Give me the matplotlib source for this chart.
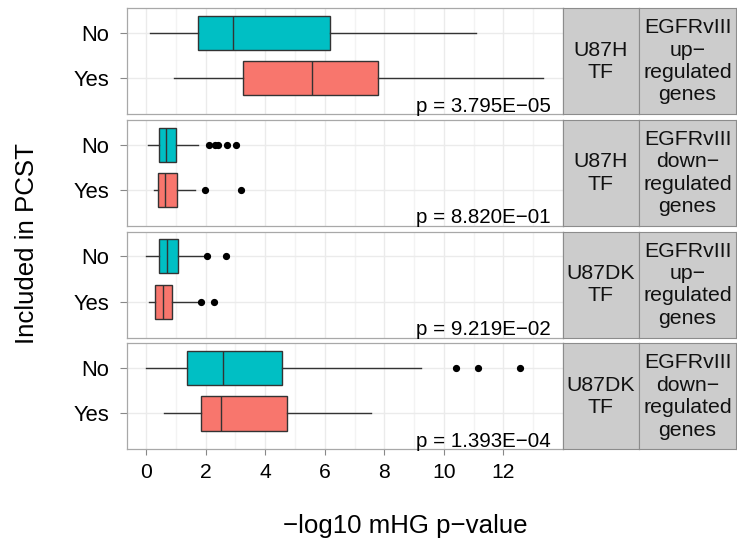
import matplotlib
matplotlib.use("Agg")
import matplotlib.pyplot as plt
import numpy as np

plt.rcParams['font.family'] = ['Liberation Sans', 'DejaVu Sans']

# ---------------- data ----------------
categories = ["Yes", "No"]  # bottom to top
tf_labels = ["U87H\nTF", "U87H\nTF", "U87DK\nTF", "U87DK\nTF"]
gene_labels = ["EGFRvIII\nup\u2212\nregulated\ngenes",
               "EGFRvIII\ndown\u2212\nregulated\ngenes",
               "EGFRvIII\nup\u2212\nregulated\ngenes",
               "EGFRvIII\ndown\u2212\nregulated\ngenes"]
p_labels = ["p = 3.795E\u221205", "p = 8.820E\u221201",
            "p = 9.219E\u221202", "p = 1.393E\u221204"]

no_whislo = [0.13, 0.05, 0.01, 0.01]
no_q1 = [1.74, 0.44, 0.43, 1.39]
no_med = [2.91, 0.66, 0.69, 2.57]
no_q3 = [6.18, 1.02, 1.06, 4.56]
no_whishi = [11.07, 1.74, 1.95, 9.23]
no_fliers = [[], [2.12, 2.33, 2.40, 2.73, 3.01], [2.04, 2.67], [10.40, 11.13, 12.57]]

yes_whislo = [0.94, 0.26, 0.11, 0.59]
yes_q1 = [3.26, 0.41, 0.31, 1.86]
yes_med = [5.57, 0.64, 0.57, 2.53]
yes_q3 = [7.79, 1.03, 0.87, 4.72]
yes_whishi = [13.32, 1.65, 1.70, 7.56]
yes_fliers = [[], [1.99, 3.18], [1.85, 2.27], []]

x_ticks = [0, 2, 4, 6, 8, 10, 12]
col_no = "#00BFC4"
col_yes = "#F8766D"

# ---------------- layout ----------------
W, H = 737, 546
fig = plt.figure(figsize=(W / 100, H / 100), dpi=100)
fig.patch.set_facecolor("white")

px_left, px_right = 126.7, 562.7
strip1_r, strip2_r = 639.0, 736.0
top0, ph, pitch = 8.3, 106.0, 111.7

edge = "#333333"
border = "#A8A8A8"


def fx(px):
    return px / W


def fy(py):
    return 1 - py / H


for i in range(4):
    top = top0 + i * pitch
    ax = fig.add_axes([fx(px_left), fy(top + ph), (px_right - px_left) / W, ph / H])
    ax.set_xlim(-0.65, 13.99)
    ax.set_ylim(0.21, 2.54)
    ax.set_facecolor("white")
    # grid
    for xv in np.arange(1, 14, 2):
        ax.axvline(xv, color="#F3F3F3", lw=1.0, zorder=0)
    for xv in x_ticks:
        ax.axvline(xv, color="#EBEBEB", lw=1.0, zorder=0)
    for yv in [1, 2]:
        ax.axhline(yv, color="#EBEBEB", lw=1.0, zorder=0)

    stats = [
        dict(whislo=yes_whislo[i], q1=yes_q1[i], med=yes_med[i], q3=yes_q3[i],
             whishi=yes_whishi[i], fliers=yes_fliers[i]),
        dict(whislo=no_whislo[i], q1=no_q1[i], med=no_med[i], q3=no_q3[i],
             whishi=no_whishi[i], fliers=no_fliers[i]),
    ]
    kw = dict(positions=[1, 2], widths=0.75, patch_artist=True, showcaps=False,
              boxprops=dict(edgecolor=edge, linewidth=1.0),
              medianprops=dict(color=edge, linewidth=1.0),
              whiskerprops=dict(color=edge, linewidth=1.0),
              flierprops=dict(marker="o", markerfacecolor="black",
                              markeredgecolor="black", markersize=4.2),
              manage_ticks=False, zorder=2)
    try:
        res = ax.bxp(stats, orientation="horizontal", **kw)
    except TypeError:
        res = ax.bxp(stats, vert=False, **kw)
    for patch, c in zip(res["boxes"], [col_yes, col_no]):
        patch.set_facecolor(c)

    ax.text(13.58, 0.27, p_labels[i], ha="right", va="baseline", fontsize=14.8,
            color="black", zorder=3)

    ax.set_yticks([1, 2])
    ax.set_yticklabels(categories, fontsize=15.8, color="black")
    ax.tick_params(axis="y", length=4.8, width=0.8, color="#888888", pad=7.5)
    if i == 3:
        ax.set_xticks(x_ticks)
        ax.set_xticklabels([str(v) for v in x_ticks], fontsize=15.2, color="black")
        ax.tick_params(axis="x", length=4.0, width=0.8, color="#888888", pad=5.5)
    else:
        ax.set_xticks([])
    for s in ax.spines.values():
        s.set_color(border)
        s.set_linewidth(0.9)

    # strips
    for (l, r, txt) in [(px_right, strip1_r, tf_labels[i]), (strip1_r, strip2_r, gene_labels[i])]:
        sa = fig.add_axes([fx(l), fy(top + ph), (r - l) / W, ph / H])
        sa.set_facecolor("#CCCCCC")
        sa.set_xticks([])
        sa.set_yticks([])
        for s in sa.spines.values():
            s.set_color("#8C8C8C")
            s.set_linewidth(0.8)
        sa.text(0.5, 0.5, txt, ha="center", va="center", fontsize=15.3,
                color="#111111", transform=sa.transAxes, linespacing=1.23)

fig.text(fx(27), fy(243), "Included in PCST", rotation=90, ha="center", va="center",
         fontsize=18.6, color="black")
fig.text(fx(405), fy(526), "\u2212log10 mHG p\u2212value", ha="center", va="center",
         fontsize=18.6, color="black")

fig.savefig("out.png", dpi=100, facecolor="white")
